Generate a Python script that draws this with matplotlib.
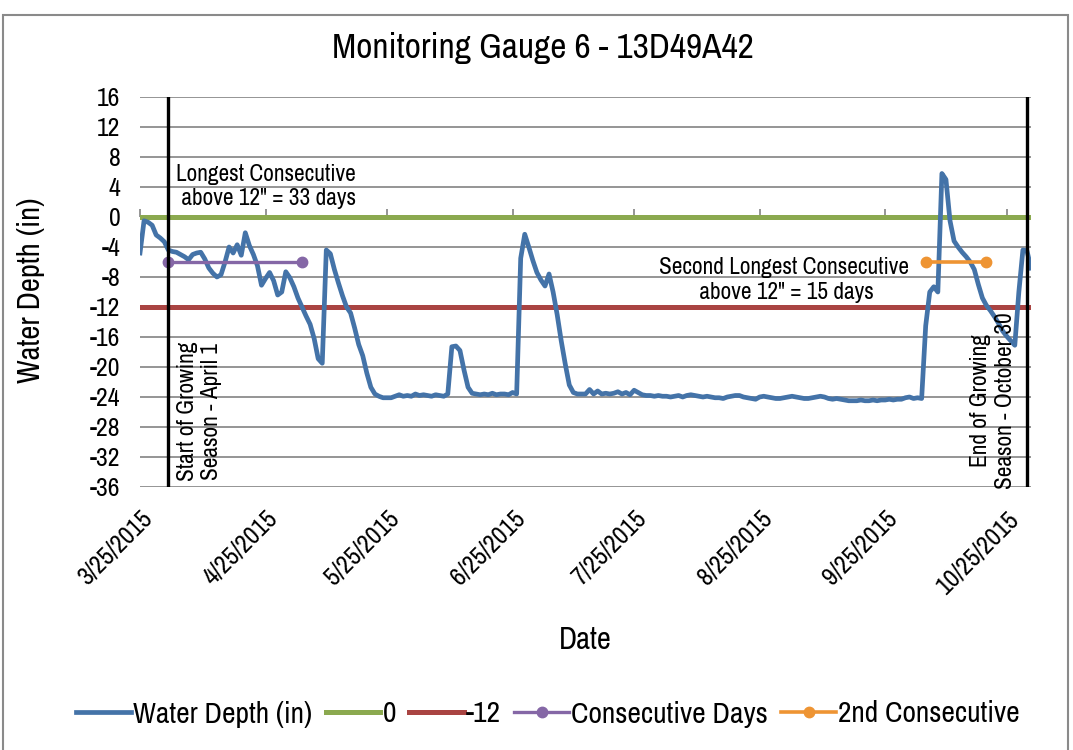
import matplotlib
matplotlib.use('Agg')
import matplotlib.pyplot as plt
from matplotlib import font_manager
from matplotlib.lines import Line2D
from matplotlib.patches import Rectangle
import pandas as pd

# ---------------- data ----------------
start_date = '2015-03-25'
water_depth = [
    -4.8, -0.5, -0.7, -1.1, -2.4, -2.8, -3.3, -4.4, -4.6, -4.7,
    -5.0, -5.3, -5.7, -5.0, -4.8, -4.7, -5.6, -6.8, -7.5, -8.0,
    -7.7, -6.0, -4.0, -4.8, -3.7, -5.1, -2.1, -3.8, -5.0, -6.5,
    -9.1, -8.2, -7.4, -8.5, -10.4, -10.0, -7.3, -8.1, -9.3, -10.8,
    -12.0, -13.2, -14.3, -16.2, -18.9, -19.5, -4.4, -4.9, -7.0, -8.8,
    -10.5, -12.0, -12.8, -14.8, -17.0, -18.5, -20.8, -22.7, -23.6, -23.9,
    -24.1, -24.1, -24.1, -23.9, -23.7, -23.9, -23.8, -23.9, -23.6, -23.8,
    -23.7, -23.8, -23.9, -23.7, -23.8, -23.9, -23.6, -17.3, -17.2, -17.8,
    -20.4, -22.7, -23.5, -23.6, -23.7, -23.6, -23.7, -23.5, -23.7, -23.6,
    -23.6, -23.7, -23.4, -23.6, -5.5, -2.3, -4.0, -5.8, -7.4, -8.4,
    -9.2, -7.6, -10.0, -13.0, -16.5, -19.6, -22.4, -23.4, -23.6, -23.6,
    -23.6, -23.0, -23.6, -23.2, -23.6, -23.5, -23.6, -23.5, -23.3, -23.6,
    -23.4, -23.7, -23.1, -23.4, -23.7, -23.8, -23.8, -23.9, -23.8, -23.9,
    -23.9, -24.0, -23.9, -23.8, -24.0, -23.8, -23.7, -23.8, -23.9, -24.0,
    -23.9, -24.0, -24.1, -24.1, -24.2, -24.0, -23.9, -23.8, -23.8, -24.0,
    -24.1, -24.2, -24.3, -24.0, -23.9, -24.0, -24.1, -24.2, -24.2, -24.1,
    -24.0, -23.9, -24.0, -24.1, -24.2, -24.2, -24.1, -24.0, -23.9, -24.0,
    -24.2, -24.3, -24.2, -24.3, -24.4, -24.5, -24.5, -24.5, -24.4, -24.5,
    -24.5, -24.4, -24.5, -24.4, -24.4, -24.3, -24.4, -24.3, -24.3, -24.1,
    -24.0, -24.2, -24.1, -24.2, -14.5, -10.0, -9.3, -10.0, 5.8, 5.0,
    -0.5, -3.2, -4.0, -4.7, -5.3, -6.0, -7.0, -9.0, -10.8, -11.8,
    -12.5, -13.3, -14.2, -15.2, -15.9, -16.5, -17.1, -10.0, -4.4, -4.5,
    -6.8,
]
ref_dates = ['2015-03-25', '2015-10-31']
zero_level = [0, 0]
minus12_level = [-12, -12]
consec_dates = ['2015-04-01', '2015-05-04']
consec_vals = [-6, -6]
consec2_dates = ['2015-10-05', '2015-10-20']
consec2_vals = [-6, -6]
season_start = '2015-04-01'
season_end = '2015-10-30'
x_ticks = ['2015-03-25', '2015-04-25', '2015-05-25', '2015-06-25',
           '2015-07-25', '2015-08-25', '2015-09-25', '2015-10-25']
x_tick_labels = ['3/25/2015', '4/25/2015', '5/25/2015', '6/25/2015',
                 '7/25/2015', '8/25/2015', '9/25/2015', '10/25/2015']
y_ticks = list(range(-36, 17, 4))

# ---------------- font choice ----------------
FONT, STRETCH, SCALE = 'Liberation Sans', 'normal', 0.85
cands = []
for f in font_manager.fontManager.ttflist:
    nm = f.name
    st = str(f.stretch)
    is_cond = ('Narrow' in nm or 'Condensed' in nm or
               st in ('condensed', 'semi-condensed', 'extra-condensed'))
    if is_cond and str(f.style) == 'normal' and f.weight in (400, 'normal', 'regular'):
        cands.append((nm, st))
if cands:
    pref = sorted(cands, key=lambda c: (0 if 'Narrow' in c[0] else
                                        1 if 'Condensed' in c[0] else 2, c[0]))
    FONT, STRETCH = pref[0]
    SCALE = 1.0
plt.rcParams['font.family'] = [FONT, 'DejaVu Sans']
plt.rcParams['font.stretch'] = STRETCH

def fs(v):
    return v * SCALE

BLUE = '#4473A8'
GREEN = '#8BA94F'
RED = '#A94442'
PURPLE = '#8567A6'
ORANGE = '#EE9433'
GRID = '#8c8c8c'

W, H = 1073, 750
fig = plt.figure(figsize=(W / 100, H / 100), dpi=100)
L, R, T, B = 140, 1031, 97, 487
ax = fig.add_axes([L / W, 1 - B / H, (R - L) / W, (B - T) / H])

dates = pd.date_range(start_date, periods=len(water_depth), freq='D')
ax.plot(dates, water_depth, color=BLUE, lw=3.4, solid_joinstyle='round', zorder=4)
ax.plot(pd.to_datetime(ref_dates), zero_level, color=GREEN, lw=3.6, zorder=3)
ax.plot(pd.to_datetime(ref_dates), minus12_level, color=RED, lw=3.6, zorder=3)
ax.plot(pd.to_datetime(consec_dates), consec_vals, color=PURPLE, lw=2.4,
        marker='o', ms=7.5, zorder=5)
ax.plot(pd.to_datetime(consec2_dates), consec2_vals, color=ORANGE, lw=2.6,
        marker='o', ms=7.5, zorder=5)
ax.axvline(pd.Timestamp(season_start), color='black', lw=2.4, zorder=6)
ax.axvline(pd.Timestamp(season_end), color='black', lw=2.4, zorder=6)

ax.set_xlim(pd.Timestamp(ref_dates[0]), pd.Timestamp(ref_dates[1]))
ax.set_ylim(-36, 16)
ax.set_yticks(y_ticks)
ax.set_yticklabels([str(v) for v in y_ticks], fontsize=fs(18.5))
ax.tick_params(axis='y', length=0, pad=14)
ax.grid(axis='y', color=GRID, lw=1.3)
ax.set_axisbelow(True)
for s in ax.spines.values():
    s.set_visible(False)

ax.set_xticks(pd.to_datetime(x_ticks))
ax.set_xticklabels(x_tick_labels, fontsize=fs(18.5), rotation=45, ha='right',
                   rotation_mode='anchor')
ax.tick_params(axis='x', length=0, pad=14)

# tick marks on the axis that crosses at 0
loc0 = (0 - (-36)) / (16 - (-36))
sec = ax.secondary_xaxis(loc0)
sec.set_xticks(pd.to_datetime(x_ticks))
sec.set_xticklabels([])
sec.tick_params(axis='x', direction='out', length=6, width=1.3, color=GRID)
sec.spines['bottom'].set_visible(False)
sec.spines['top'].set_visible(False)

# annotations
ANN = fs(16.8)
ax.text(pd.Timestamp('2015-04-25'), 4.1, 'Longest Consecutive\n above 12" = 33 days',
        fontsize=ANN, ha='center', va='center', multialignment='center', zorder=7)
ax.text(pd.Timestamp('2015-08-31'), -8.4,
        'Second Longest Consecutive\n above 12" = 15 days',
        fontsize=ANN, ha='center', va='center', multialignment='center', zorder=7)
ax.annotate('Start of Growing\nSeason - April 1', xy=(pd.Timestamp(season_start), -25.9),
            xytext=(6, 0), textcoords='offset points', rotation=90, fontsize=ANN,
            ha='left', va='center', multialignment='center', zorder=7)
ax.annotate('End of Growing\nSeason - October 30', xy=(pd.Timestamp(season_end), -24.5),
            xytext=(-8, 0), textcoords='offset points', rotation=90, fontsize=ANN,
            ha='right', va='center', multialignment='center', zorder=7)

# titles
fig.text(543 / W, 1 - 48 / H, 'Monitoring Gauge 6 - 13D49A42', fontsize=fs(25.5),
         ha='center', va='center')
fig.text(585 / W, 1 - 640 / H, 'Date', fontsize=fs(22), ha='center', va='center')
fig.text(31 / W, 1 - 290 / H, 'Water Depth (in)', fontsize=fs(22), rotation=90,
         ha='center', va='center')

# legend
handles = [
    Line2D([], [], color=BLUE, lw=3.4),
    Line2D([], [], color=GREEN, lw=3.6),
    Line2D([], [], color=RED, lw=3.6),
    Line2D([], [], color=PURPLE, lw=2.4, marker='o', ms=7.5),
    Line2D([], [], color=ORANGE, lw=2.6, marker='o', ms=7.5),
]
labels = ['Water Depth (in)', '0', '-12', 'Consecutive Days', '2nd Consecutive']
fig.legend(handles, labels, loc='center', bbox_to_anchor=(548 / W, 1 - 714 / H),
           ncol=5, frameon=False, fontsize=fs(21.3), handlelength=1.85,
           handletextpad=0.07, columnspacing=0.45)

# outer chart border
fig.add_artist(Rectangle((3 / W, -0.05), (1068 - 3) / W, 1.05 - 15 / H,
                         transform=fig.transFigure, fill=False,
                         edgecolor='#8a8a8a', lw=1.5))

fig.savefig('out.png', dpi=100)
